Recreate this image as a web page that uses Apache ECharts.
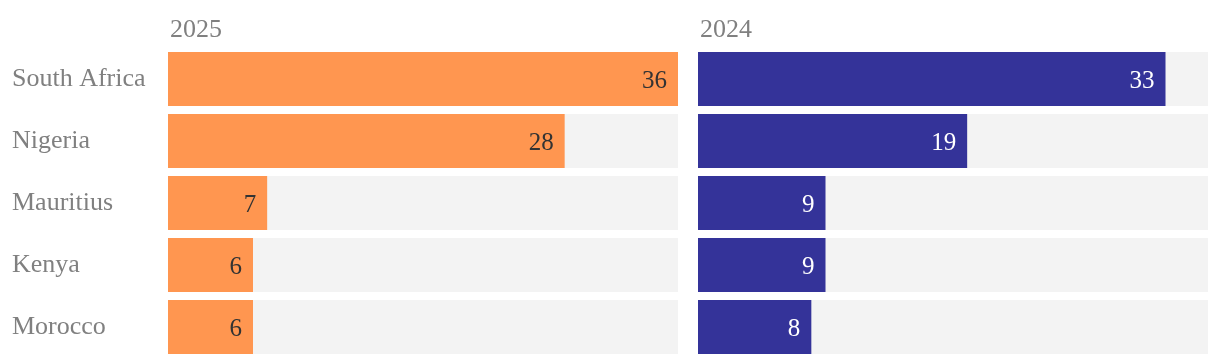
<!DOCTYPE html>
<html><head><meta charset="utf-8">
<script src="https://cdn.jsdelivr.net/npm/echarts@6/dist/echarts.min.js"></script>
<style>html,body{margin:0;padding:0;background:#fff}#c{width:1220px;height:364px}</style>
</head><body><div id="c"></div>
<script>
const categories = ['South Africa','Nigeria','Mauritius','Kenya','Morocco'];
const values2025 = [36, 28, 7, 6, 6];
const values2024 = [33, 19, 9, 9, 8];
const panelTitles = ['2025', '2024'];
const FONT = '"Liberation Serif", "DejaVu Serif", serif';
const chart = echarts.init(document.getElementById('c'));
const yAx = (gi, show) => ({
  type: 'category', gridIndex: gi, data: categories, inverse: true,
  axisLine: {show: false}, axisTick: {show: false},
  axisLabel: {show: show, align: 'left', margin: 156, padding: [4, 0, 0, 0], color: '#808080', fontSize: 26, fontFamily: FONT}
});
const xAx = (gi) => ({type: 'value', gridIndex: gi, min: 0, max: 36, show: false});
const ser = (gi, data, color, labelColor) => ({
  type: 'bar', xAxisIndex: gi, yAxisIndex: gi, data: data,
  barCategoryGap: '12.9%', showBackground: true,
  backgroundStyle: {color: '#f3f3f3'},
  itemStyle: {color: color},
  label: {show: true, position: 'insideRight', distance: 11, offset: [0, 2], color: labelColor, fontSize: 25, fontFamily: FONT},
  silent: true, animation: false
});
chart.setOption({
  animation: false,
  title: [
    {text: panelTitles[0], left: 165, top: 12, textStyle: {color: '#808080', fontSize: 26, fontWeight: 'normal', fontFamily: FONT}},
    {text: panelTitles[1], left: 695, top: 12, textStyle: {color: '#808080', fontSize: 26, fontWeight: 'normal', fontFamily: FONT}}
  ],
  grid: [
    {left: 168, width: 510, top: 48, height: 310},
    {left: 698, width: 510, top: 48, height: 310}
  ],
  xAxis: [xAx(0), xAx(1)],
  yAxis: [yAx(0, true), yAx(1, false)],
  series: [ser(0, values2025, '#ff9650', '#333333'), ser(1, values2024, '#343399', '#ffffff')]
});
</script></body></html>
